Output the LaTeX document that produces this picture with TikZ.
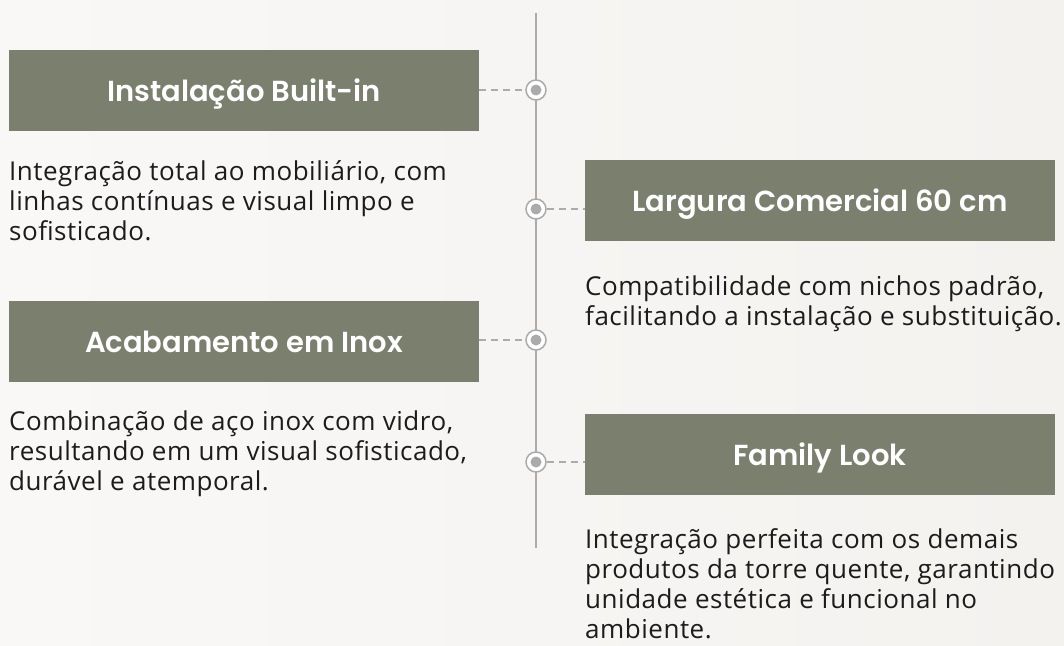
\documentclass[tikz,border=0pt]{standalone}
\usepackage{fontspec}
\setmainfont{Open Sans}[LetterSpace=2.0]
\newfontfamily\titlefont{Poppins SemiBold}
\usetikzlibrary{positioning}

\definecolor{pageleft}{HTML}{F9F8F7}
\definecolor{pageright}{HTML}{F4F2EF}
\definecolor{boxgreen}{HTML}{7A7F6E}
\definecolor{spinegray}{HTML}{ABABAB}
\definecolor{bodyink}{HTML}{1C1C1C}

\tikzset{
  titlebox/.style={fill=boxgreen, text=white, minimum width=470pt, minimum height=81pt,
    inner sep=0pt, text height=26pt, text depth=4pt, font=\titlefont\fontsize{29}{32}\selectfont},
  bodytext/.style={anchor=base west, align=left, inner sep=0pt, text=bodyink,
    font=\fontsize{26}{30}\selectfont},
  knot/.style={circle, draw=spinegray, fill=white, line width=1.5pt, minimum size=20pt,
    inner sep=0pt, path picture={\fill[spinegray] (path picture bounding box.center) circle (5.5pt);}},
  link/.style={draw=spinegray, line width=1.3pt, dash pattern=on 7pt off 5pt}
}

\begin{document}
\begin{tikzpicture}[x=1pt,y=-1pt]
      \pgfmathsetmacro{\sx}{536}
      \pgfmathsetmacro{\lx}{244}
      \pgfmathsetmacro{\rx}{820}

      \shade[left color=pageleft, right color=pageright] (0,0) rectangle (1064,645);
      \useasboundingbox (0,0) rectangle (1064,645);

      \coordinate (top) at (\sx,13);
      \coordinate (bot) at (\sx,548);
      \draw[spinegray, line width=1.5pt] (top) -- (bot);

      \node[titlebox] (B1) at (\lx,90) {Instalação Built-in};
      \node[titlebox] (B2) at (\rx,200.5) {Largura Comercial 60 cm};
      \node[titlebox] (B3) at (\lx,341) {Acabamento em Inox};
      \node[titlebox] (B4) at (\rx,454.5) {Family Look};

      \node[knot] (K1) at (\sx,90) {};
      \node[knot] (K2) at (\sx,209) {};
      \node[knot] (K3) at (\sx,340) {};
      \node[knot] (K4) at (\sx,462) {};

      \draw[link] (B1.east |- K1) -- (K1);
      \draw[link] (K2) -- (B2.west |- K2);
      \draw[link] (B3.east |- K3) -- (K3);
      \draw[link] (K4) -- (B4.west |- K4);

      % base anchor sits on the last line
      \node[bodytext] (T1) at (9,240) {Integração total ao mobiliário, com\\linhas contínuas e visual limpo e\\sofisticado.};
      \node[bodytext] (T2) at (585,325) {Compatibilidade com nichos padrão,\\facilitando a instalação e substituição.};
      \node[bodytext] (T3) at (9,490) {Combinação de aço inox com vidro,\\resultando em um visual sofisticado,\\durável e atemporal.};
      \node[bodytext] (T4) at (585,638) {Integração perfeita com os demais\\produtos da torre quente, garantindo\\unidade estética e funcional no\\ambiente.};
\end{tikzpicture}
\end{document}
